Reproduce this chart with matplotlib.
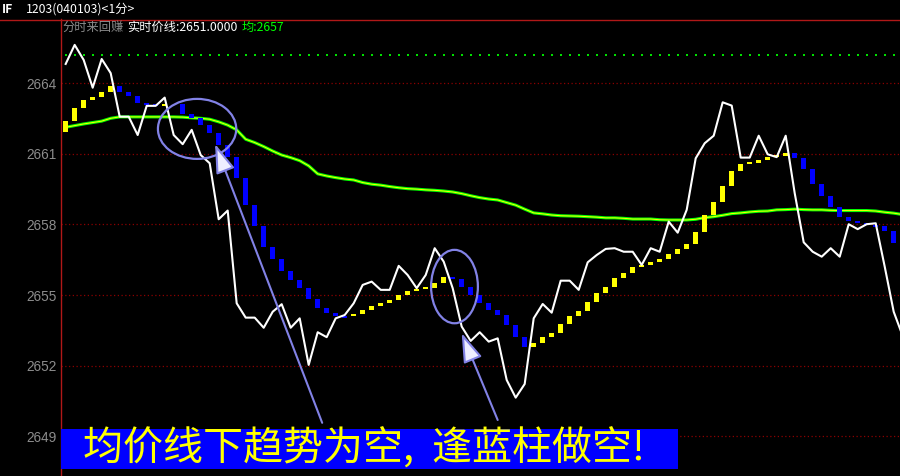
import numpy as np
import matplotlib.pyplot as plt
from matplotlib.patches import Ellipse, Rectangle, FancyArrowPatch
from matplotlib.lines import Line2D

plt.rcParams['font.family'] = ['Noto Sans CJK SC', 'DejaVu Sans']

# 1-minute close (white line)
price = [2664.82, 2665.63, 2664.99, 2663.81, 2665.03, 2664.43, 2662.58, 2662.58, 2661.80, 2663.04,
         2663.04, 2663.39, 2661.80, 2661.41, 2662.02, 2660.95, 2660.60, 2658.22, 2658.59, 2654.65,
         2654.04, 2654.04, 2653.61, 2654.29, 2654.61, 2653.61, 2654.01, 2652.03, 2653.42, 2653.21,
         2654.01, 2654.15, 2654.65, 2655.43, 2655.57, 2655.22, 2655.22, 2656.24, 2655.85, 2655.29,
         2655.85, 2656.99, 2656.42, 2655.29, 2653.66, 2653.05, 2653.42, 2653.02, 2653.16, 2651.39,
         2650.64, 2651.22, 2654.01, 2654.62, 2654.25, 2655.61, 2655.61, 2655.22, 2656.39, 2656.70,
         2656.96, 2656.99, 2656.84, 2656.84, 2656.28, 2656.99, 2656.84, 2658.12, 2657.65, 2658.62,
         2660.81, 2661.45, 2661.77, 2663.19, 2663.05, 2660.84, 2660.84, 2661.77, 2660.98, 2660.86,
         2661.77, 2659.33, 2657.24, 2656.84, 2656.63, 2656.99, 2656.63, 2658.01, 2657.80, 2658.01,
         2658.05, 2656.21, 2654.29, 2653.26]

# average price line (green/yellow)
avg_price = [2662.13, 2662.20, 2662.27, 2662.33, 2662.39, 2662.51, 2662.57, 2662.57, 2662.57, 2662.57,
             2662.57, 2662.57, 2662.57, 2662.56, 2662.53, 2662.51, 2662.47, 2662.36, 2662.22, 2662.02,
             2661.62, 2661.48, 2661.31, 2661.12, 2660.95, 2660.84, 2660.71, 2660.49, 2660.15, 2660.06,
             2659.99, 2659.93, 2659.89, 2659.78, 2659.71, 2659.67, 2659.61, 2659.56, 2659.52, 2659.50,
             2659.47, 2659.45, 2659.42, 2659.38, 2659.31, 2659.22, 2659.14, 2659.08, 2659.04, 2658.93,
             2658.82, 2658.65, 2658.49, 2658.45, 2658.40, 2658.37, 2658.36, 2658.35, 2658.33, 2658.31,
             2658.28, 2658.28, 2658.26, 2658.23, 2658.23, 2658.23, 2658.20, 2658.19, 2658.19, 2658.19,
             2658.22, 2658.29, 2658.33, 2658.39, 2658.46, 2658.49, 2658.53, 2658.56, 2658.57, 2658.62,
             2658.63, 2658.65, 2658.63, 2658.62, 2658.62, 2658.60, 2658.59, 2658.59, 2658.59, 2658.59,
             2658.57, 2658.52, 2658.48, 2658.42]

# trend line behind the yellow/blue bars (first value is the level before minute 0)
trend = [2661.94,
         2662.40, 2662.94, 2663.29, 2663.42, 2663.63, 2663.89, 2663.63, 2663.47, 2663.16, 2663.12,
         2663.04, 2663.13, 2663.13, 2662.70, 2662.54, 2662.23, 2661.87, 2661.39, 2660.88, 2659.99,
         2658.83, 2657.95, 2657.06, 2656.53, 2656.04, 2655.64, 2655.29, 2654.83, 2654.44, 2654.23,
         2654.12, 2654.10, 2654.20, 2654.37, 2654.55, 2654.68, 2654.79, 2655.00, 2655.17, 2655.25,
         2655.31, 2655.53, 2655.78, 2655.68, 2655.36, 2655.00, 2654.65, 2654.37, 2654.15, 2653.73,
         2653.23, 2652.78, 2652.98, 2653.21, 2653.40, 2653.76, 2654.11, 2654.34, 2654.72, 2655.10,
         2655.36, 2655.71, 2655.95, 2656.18, 2656.28, 2656.41, 2656.53, 2656.75, 2656.95, 2657.17,
         2657.69, 2658.40, 2658.94, 2659.64, 2660.27, 2660.57, 2660.63, 2660.74, 2660.87, 2660.89,
         2661.03, 2660.84, 2660.35, 2659.73, 2659.22, 2658.76, 2658.33, 2658.15, 2658.05, 2657.98,
         2657.94, 2657.72, 2657.20]

grid_levels = [2664, 2661, 2658, 2655, 2652, 2649]
grid_labels = ['2664', '2661', '2658', '2655', '2652', '2649']
top_level = 2665.2

circle_centers = [(14.6, 2662.06), (43.2, 2655.36)]
circle_sizes = [(8.7, 2.55), (5.2, 3.12)]
arrow_tails = [(28.5, 2649.57), (48.0, 2649.69)]
arrow_tips = [(16.6, 2661.42), (44.0, 2653.38)]

banner_text = '均价线下趋势为空,  逢蓝柱做空!'

W, H = 900, 476
fig = plt.figure(figsize=(9, 4.76), dpi=100, facecolor='black')
ax = fig.add_axes([61 / W, 0, 839 / W, 457 / H])
ax.set_facecolor('black')
ax.set_xlim(-0.52, 92.7)
ax.set_ylim(2647.31, 2666.73)

for s in ['top', 'right', 'bottom']:
    ax.spines[s].set_visible(False)
ax.spines['left'].set_color('#b01818')
ax.spines['left'].set_linewidth(1)

ax.set_xticks([])
ax.set_yticks(grid_levels)
ax.set_yticklabels(grid_labels, family=['Liberation Sans'], fontsize=9.8, color='#8c8c8c')
ax.tick_params(axis='y', length=0, pad=3)

for lv in grid_levels:
    ax.axhline(lv, color='#8b0000', lw=0.9, ls=(0, (1, 2)), zorder=1)

x = np.arange(len(price))
ax.plot(x, [top_level] * len(x), ls='none', marker='s', ms=1.6, mew=0, color='#00e000', zorder=1)

# average line: green with yellow core
ax.plot(x, avg_price, color='#00ff00', lw=2.2, zorder=2)
ax.plot(x, avg_price, color='#ffff00', lw=0.7, zorder=2)

# trend bars
tr = np.array(trend)
d = tr[1:] - tr[:-1]
kb = np.arange(len(d))
m = d != 0
h = np.sign(d) * np.maximum(np.abs(d), 0.09)
cols = np.where(d > 0, '#ffff00', '#0000ff')
ax.bar(kb[m], h[m], bottom=tr[:-1][m], width=0.6, color=cols[m], zorder=3, linewidth=0)

ax.plot(x, price, color='white', lw=1.5, zorder=4)

# annotations
for (cx, cy), (ew, eh) in zip(circle_centers, circle_sizes):
    ax.add_patch(Ellipse((cx, cy), ew, eh, fill=False, edgecolor='#8282e6', lw=1.6, zorder=5))
for tail, tip in zip(arrow_tails, arrow_tips):
    ax.add_patch(FancyArrowPatch(tail, tip, arrowstyle='-|>,head_length=1.5,head_width=0.5',
                                 mutation_scale=12, facecolor='#eeeeff', edgecolor='#8282e6',
                                 lw=1.5, shrinkA=0, shrinkB=0, zorder=5))

ax.add_patch(Rectangle((0, 7 / 457), 617 / 839, 40 / 457, transform=ax.transAxes,
                       facecolor='#0000ff', edgecolor='none', zorder=6, clip_on=False))
ax.text(22 / 839, 27 / 457, banner_text, transform=ax.transAxes, color='#ffff00',
        fontsize=28.8, va='center', ha='left', zorder=7)

# header
fig.add_artist(Line2D([0, 1], [1 - 19.5 / H] * 2, color='#b01818', lw=1, transform=fig.transFigure))
fig.text(2 / W, 1 - 9.5 / H, 'IF', color='white', fontsize=8.8, fontweight='bold', va='center')
fig.text(26 / W, 1 - 9.5 / H, '1203(040103)<1分>', color='white', fontsize=8.8, va='center')
fig.text(62 / W, 1 - 27.5 / H, '分时来回赚', color='#8c8c8c', fontsize=8.8, va='center')
fig.text(127 / W, 1 - 27.5 / H, '实时价线:2651.0000', color='white', fontsize=8.8, va='center')
fig.text(242 / W, 1 - 27.5 / H, '均:2657', color='#00ff00', fontsize=8.8, va='center')

fig.savefig('out.png', dpi=100, facecolor='black')
